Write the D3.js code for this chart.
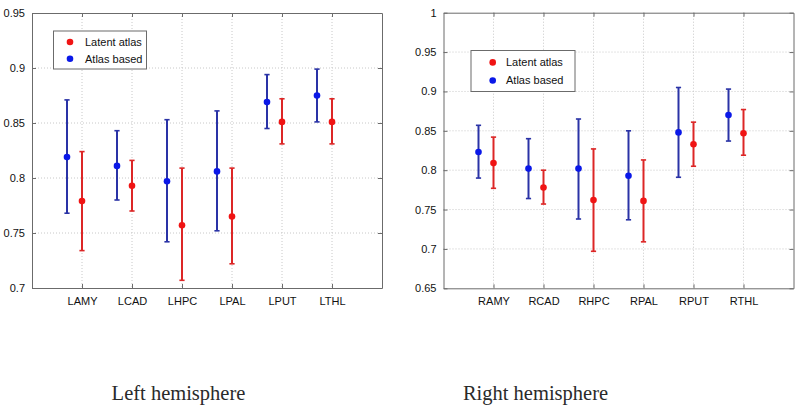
<!DOCTYPE html>
<html>
<head>
<meta charset="utf-8">
<script src="https://cdn.jsdelivr.net/npm/d3@7"></script>
<style>
  body { margin: 0; background: #fff; }
  svg { display: block; }
</style>
</head>
<body>
<svg id="chart" width="800" height="413"></svg>
<script>
// left hemisphere
const leftCategories = ['LAMY', 'LCAD', 'LHPC', 'LPAL', 'LPUT', 'LTHL'];
const leftTicks = [0.7, 0.75, 0.8, 0.85, 0.9, 0.95];
const leftAtlasMean = [0.819, 0.811, 0.797, 0.806, 0.869, 0.875];
const leftAtlasLow = [0.768, 0.780, 0.742, 0.752, 0.845, 0.851];
const leftAtlasHigh = [0.871, 0.843, 0.853, 0.861, 0.894, 0.899];
const leftLatentMean = [0.779, 0.793, 0.757, 0.765, 0.851, 0.851];
const leftLatentLow = [0.734, 0.770, 0.707, 0.722, 0.831, 0.831];
const leftLatentHigh = [0.824, 0.816, 0.809, 0.809, 0.872, 0.872];

// right hemisphere
const rightCategories = ['RAMY', 'RCAD', 'RHPC', 'RPAL', 'RPUT', 'RTHL'];
const rightTicks = [0.65, 0.7, 0.75, 0.8, 0.85, 0.9, 0.95, 1];
const rightAtlasMean = [0.823, 0.802, 0.802, 0.793, 0.848, 0.870];
const rightAtlasLow = [0.790, 0.764, 0.738, 0.737, 0.791, 0.837];
const rightAtlasHigh = [0.857, 0.840, 0.865, 0.850, 0.905, 0.903];
const rightLatentMean = [0.809, 0.778, 0.762, 0.761, 0.833, 0.847];
const rightLatentLow = [0.777, 0.757, 0.697, 0.709, 0.805, 0.819];
const rightLatentHigh = [0.842, 0.800, 0.827, 0.813, 0.861, 0.877];

const legendLabels = ['Latent atlas', 'Atlas based'];

const colors = {
  latentBar: '#dc2626', latentDot: '#f01414',
  atlasBar: '#2a33a6', atlasDot: '#0a18e8',
  frame: '#6b6b6b', grid: '#c8c8c8', text: '#111'
};

const svg = d3.select('#chart');

function drawPanel(cfg) {
  const x = d3.scaleLinear().domain([0, cfg.categories.length + 1]).range([cfg.left, cfg.right]);
  const y = d3.scaleLinear().domain([cfg.ticks[0], cfg.ticks[cfg.ticks.length - 1]]).range([cfg.bottom, cfg.top]);
  const g = svg.append('g');

  // grid
  g.selectAll('.hgrid').data(cfg.ticks.slice(1, -1)).enter().append('line')
    .attr('x1', cfg.left).attr('x2', cfg.right)
    .attr('y1', d => y(d)).attr('y2', d => y(d))
    .attr('stroke', colors.grid).attr('stroke-dasharray', '1,2');
  g.selectAll('.vgrid').data(cfg.categories).enter().append('line')
    .attr('x1', (d, i) => x(i + 1)).attr('x2', (d, i) => x(i + 1))
    .attr('y1', cfg.top).attr('y2', cfg.bottom)
    .attr('stroke', colors.grid).attr('stroke-dasharray', '1,2');

  // axes, matlab style box with inward ticks
  const yAxis = g.append('g').attr('transform', `translate(${cfg.left},0)`)
    .call(d3.axisLeft(y).tickValues(cfg.ticks).tickFormat(d3.format('~g')).tickSizeInner(-4).tickSizeOuter(0).tickPadding(7));
  const yAxisR = g.append('g').attr('transform', `translate(${cfg.right},0)`)
    .call(d3.axisRight(y).tickValues(cfg.ticks).tickFormat('').tickSizeInner(-4).tickSizeOuter(0));
  const xAxis = g.append('g').attr('transform', `translate(0,${cfg.bottom})`)
    .call(d3.axisBottom(x).tickValues(d3.range(1, cfg.categories.length + 1))
      .tickFormat(d => cfg.categories[d - 1]).tickSizeInner(-4).tickSizeOuter(0).tickPadding(9));
  const xAxisT = g.append('g').attr('transform', `translate(0,${cfg.top})`)
    .call(d3.axisTop(x).tickValues(d3.range(1, cfg.categories.length + 1)).tickFormat('').tickSizeInner(-4).tickSizeOuter(0));
  [yAxis, yAxisR, xAxis, xAxisT].forEach(a => {
    a.selectAll('path, line').attr('stroke', colors.frame);
    a.selectAll('text').attr('fill', colors.text).style('font-family', 'Liberation Sans, Arial, sans-serif').style('font-size', '11px');
  });

  // error bars
  const series = [
    {mean: cfg.atlasMean, low: cfg.atlasLow, high: cfg.atlasHigh, offset: -0.3, bar: colors.atlasBar, dot: colors.atlasDot},
    {mean: cfg.latentMean, low: cfg.latentLow, high: cfg.latentHigh, offset: 0, bar: colors.latentBar, dot: colors.latentDot}
  ];
  const cap = 2.6;
  series.forEach(s => {
    const rows = s.mean.map((m, i) => ({i, m, lo: s.low[i], hi: s.high[i]}));
    const eg = g.append('g');
    eg.selectAll('.stem').data(rows).enter().append('line')
      .attr('x1', d => x(d.i + 1 + s.offset)).attr('x2', d => x(d.i + 1 + s.offset))
      .attr('y1', d => y(d.lo)).attr('y2', d => y(d.hi))
      .attr('stroke', s.bar).attr('stroke-width', 2);
    eg.selectAll('.capHi').data(rows).enter().append('line')
      .attr('x1', d => x(d.i + 1 + s.offset) - cap).attr('x2', d => x(d.i + 1 + s.offset) + cap)
      .attr('y1', d => y(d.hi)).attr('y2', d => y(d.hi))
      .attr('stroke', s.bar).attr('stroke-width', 1.6);
    eg.selectAll('.capLo').data(rows).enter().append('line')
      .attr('x1', d => x(d.i + 1 + s.offset) - cap).attr('x2', d => x(d.i + 1 + s.offset) + cap)
      .attr('y1', d => y(d.lo)).attr('y2', d => y(d.lo))
      .attr('stroke', s.bar).attr('stroke-width', 1.6);
    eg.selectAll('circle').data(rows).enter().append('circle')
      .attr('cx', d => x(d.i + 1 + s.offset)).attr('cy', d => y(d.m))
      .attr('r', 3.3).attr('fill', s.dot);
  });

  // legend
  const lg = g.append('g').attr('transform', `translate(${cfg.legend.x},${cfg.legend.y})`);
  lg.append('rect').attr('width', cfg.legend.w).attr('height', cfg.legend.h)
    .attr('fill', '#fff').attr('stroke', colors.frame);
  const rowY = [cfg.legend.h * 0.29, cfg.legend.h * 0.73];
  [colors.latentDot, colors.atlasDot].forEach((c, i) => {
    lg.append('circle').attr('cx', cfg.legend.dotX).attr('cy', rowY[i]).attr('r', 3.3).attr('fill', c);
    lg.append('text').attr('x', cfg.legend.textX).attr('y', rowY[i]).attr('dy', '0.36em')
      .attr('fill', colors.text)
      .style('font-family', 'Liberation Sans, Arial, sans-serif').style('font-size', '11px')
      .text(legendLabels[i]);
  });

  // title
  svg.append('text').attr('x', cfg.titleX).attr('y', 400).attr('text-anchor', 'middle')
    .attr('fill', '#2a2a2a')
    .style('font-family', 'Liberation Serif, Times New Roman, serif').style('font-size', '20.5px')
    .text(cfg.title);
}

drawPanel({
  left: 32, right: 382, top: 13, bottom: 288,
  categories: leftCategories, ticks: leftTicks,
  atlasMean: leftAtlasMean, atlasLow: leftAtlasLow, atlasHigh: leftAtlasHigh,
  latentMean: leftLatentMean, latentLow: leftLatentLow, latentHigh: leftLatentHigh,
  legend: {x: 53.5, y: 31, w: 93, h: 38, dotX: 16.5, textX: 31.5},
  title: 'Left hemisphere', titleX: 178.5
});

drawPanel({
  left: 443.5, right: 793.5, top: 12.7, bottom: 288.3,
  categories: rightCategories, ticks: rightTicks,
  atlasMean: rightAtlasMean, atlasLow: rightAtlasLow, atlasHigh: rightAtlasHigh,
  latentMean: rightLatentMean, latentLow: rightLatentLow, latentHigh: rightLatentHigh,
  legend: {x: 471, y: 50.5, w: 104, h: 41, dotX: 21.7, textX: 35},
  title: 'Right hemisphere', titleX: 535.5
});
</script>
</body>
</html>
